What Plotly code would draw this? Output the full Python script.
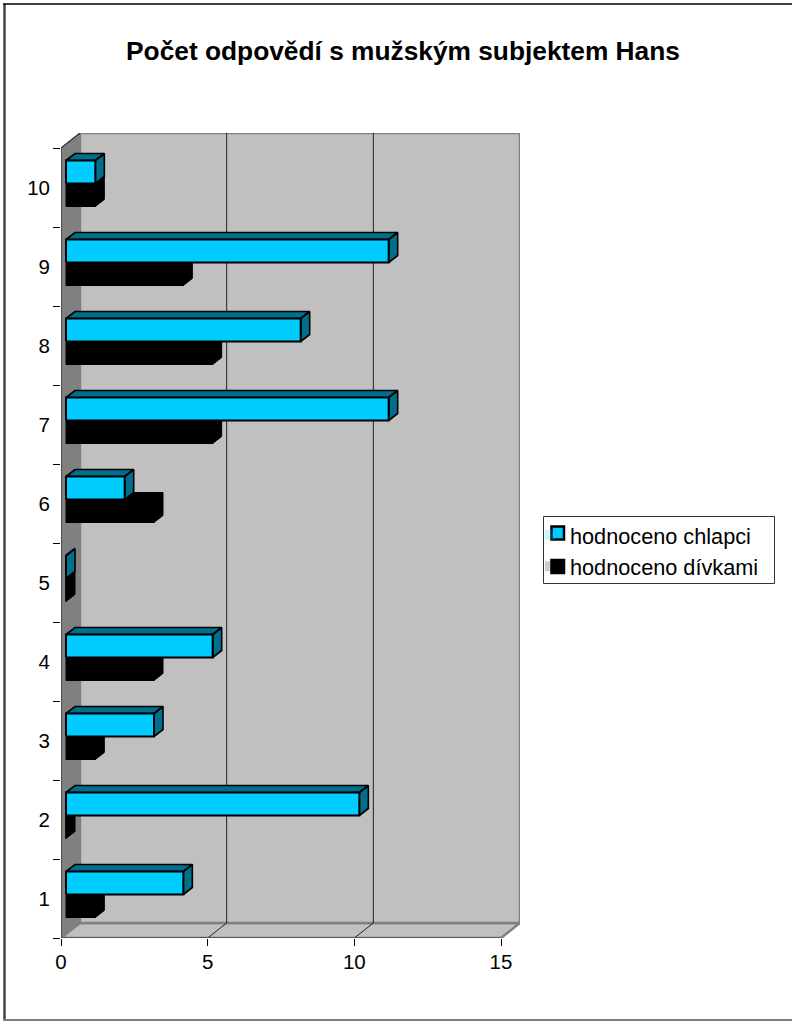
import plotly.graph_objects as go

categories = [1, 2, 3, 4, 5, 6, 7, 8, 9, 10]
chlapci = [4, 10, 3, 5, 0, 2, 11, 8, 11, 1]
divky = [1, 0, 1, 3, 0, 3, 5, 5, 4, 1]
x_ticks = [0, 5, 10, 15]
title_text = "Počet odpovědí s mužským subjektem Hans"
series_names = ["hodnoceno chlapci", "hodnoceno dívkami"]

W, H = 792, 1021
# Plot frame in pixels; the frame includes the oblique depth of the box
LEFT, RIGHT, TOP, BOTTOM = 61, 520, 133, 938
UX = (501 - 61) / 15      # pixels per unit along x
UY = (938 - 148) / 10     # pixels per category along y

WALL_DX, WALL_DY = 19 / UX, 15 / UY     # depth of the box
BAR_DX0, BAR_DY0 = 5 / UX, 4 / UY       # distance of a bar's front face from the front plane
BAR_DX, BAR_DY = 9 / UX, 7 / UY         # depth of a bar
BAR_H = 23 / UY

X_MAX, Y_MIN, Y_MAX = 15, 0.5, 10.5

CYAN, TEAL, GREY, SILVER = "#00CCFF", "#006F8C", "#808080", "#C0C0C0"


def px(x):
    return x / W


def py(y):
    return 1 - y / H


def poly(corners):
    xs, ys = [], []
    for c in corners:
        xs += [p[0] for p in c] + [c[0][0], None]
        ys += [p[1] for p in c] + [c[0][1], None]
    return xs, ys


def faces(values, y_low, y_high):
    """Front, top and side faces of a row of oblique bars."""
    front, top, side = [], [], []
    for cat, v in zip(categories, values):
        x0, x1 = BAR_DX0, BAR_DX0 + v
        y0, y1 = cat + y_low + BAR_DY0, cat + y_high + BAR_DY0
        front.append([(x0, y0), (x1, y0), (x1, y1), (x0, y1)])
        top.append([(x0, y1), (x1, y1), (x1 + BAR_DX, y1 + BAR_DY), (x0 + BAR_DX, y1 + BAR_DY)])
        side.append([(x1, y0), (x1 + BAR_DX, y0 + BAR_DY), (x1 + BAR_DX, y1 + BAR_DY), (x1, y1)])
    return front, top, side


def add_poly(fig, corners, fill, line, width):
    xs, ys = poly(corners)
    fig.add_trace(go.Scatter(
        x=xs, y=ys, mode="lines", fill="toself", fillcolor=fill,
        line=dict(color=line, width=width), hoverinfo="skip", showlegend=False,
    ))


def add_line(fig, xs, ys, color, width):
    fig.add_trace(go.Scatter(
        x=xs, y=ys, mode="lines", line=dict(color=color, width=width),
        hoverinfo="skip", showlegend=False,
    ))


def frame_line(x0, y0, x1, y1, color, width):
    return dict(type="line", xref="paper", yref="paper", x0=px(x0), y0=py(y0), x1=px(x1), y1=py(y1),
                line=dict(color=color, width=width), layer="below")


def swatch(y_mid, colour):
    return dict(type="rect", xref="paper", yref="paper", x0=px(551.5), x1=px(564), y0=py(y_mid - 6.5), y1=py(y_mid + 6.5),
                fillcolor=colour, line=dict(color="#000000", width=2.5), layer="above")


fig = go.Figure()

# Box of the oblique chart: side wall, floor, back wall
add_poly(fig, [[(0, Y_MIN), (0, Y_MAX), (WALL_DX, Y_MAX + WALL_DY), (WALL_DX, Y_MIN + WALL_DY)]], GREY, GREY, 1)
add_poly(fig, [[(0, Y_MIN), (X_MAX, Y_MIN), (X_MAX + WALL_DX, Y_MIN + WALL_DY), (WALL_DX, Y_MIN + WALL_DY)]], SILVER, GREY, 2.5)
add_poly(fig, [[(WALL_DX, Y_MIN + WALL_DY), (X_MAX + WALL_DX, Y_MIN + WALL_DY),
                (X_MAX + WALL_DX, Y_MAX + WALL_DY), (WALL_DX, Y_MAX + WALL_DY)]], SILVER, GREY, 2.5)

# Gridlines run across the back wall and down the floor
for t in x_ticks[1:-1]:
    add_line(fig, [t, t + WALL_DX, t + WALL_DX], [Y_MIN, Y_MIN + WALL_DY, Y_MAX + WALL_DY], "#222222", 1)

# Front edges of the box
add_line(fig, [0, 0, WALL_DX], [Y_MIN, Y_MAX, Y_MAX + WALL_DY], "#333333", 1.3)
add_line(fig, [0, WALL_DX], [Y_MIN, Y_MIN + WALL_DY], GREY, 1)
add_line(fig, [0, X_MAX], [Y_MIN, Y_MIN], "#555555", 2)

# Bars: the girls' row sits below the category centre, the boys' row above it
f_front, f_top, f_side = faces(divky, -BAR_H, 0)
add_poly(fig, f_front + f_top + f_side, "#000000", "#000000", 1)
c_front, c_top, c_side = faces(chlapci, 0, BAR_H)
add_poly(fig, c_top + c_side, TEAL, "#000000", 1.6)
add_poly(fig, c_front, CYAN, "#000000", 2)

# Legend entries; their keys are drawn as layout shapes beside the text
for name, colour in zip(series_names, [CYAN, "#000000"]):
    fig.add_trace(go.Scatter(
        x=[None], y=[None], mode="markers", name=name,
        marker=dict(symbol="square", size=10, color=colour, opacity=0),
    ))

FONT = "Liberation Sans, Arial, sans-serif"
shapes = [
    frame_line(4.5, 4, 4.5, 1020, "#444444", 2.5),
    frame_line(3, 4, 792, 4, "#000000", 1.5),
    frame_line(3, 1020, 792, 1020, "#808080", 2),
    dict(type="rect", xref="paper", yref="paper", x0=px(543.5), x1=px(774.5), y0=py(516.5), y1=py(583.5),
         line=dict(color="#333333", width=1), fillcolor="#FFFFFF", layer="below"),
    swatch(533, CYAN),
    swatch(566.5, "#000000"),
]

fig.update_layout(
    width=W, height=H, autosize=False,
    margin=dict(l=0, r=0, t=0, b=0, autoexpand=False),
    paper_bgcolor="#FFFFFF", plot_bgcolor="rgba(0,0,0,0)",
    font=dict(family=FONT, color="#000000", size=20),
    title=dict(text=f"<b>{title_text}</b>", x=px(403), xanchor="center", y=py(51), yanchor="middle",
               font=dict(family=FONT, size=26.3, color="#000000")),
    shapes=shapes,
    showlegend=True,
    legend=dict(
        xref="container", yref="container",
        x=px(530), xanchor="left", y=py(551), yanchor="middle",
        bgcolor="rgba(0,0,0,0)", borderwidth=0, font=dict(family=FONT, size=21.7),
        itemclick=False, itemdoubleclick=False, tracegroupgap=0,
    ),
    xaxis=dict(
        domain=[px(LEFT), px(RIGHT)], range=[0, X_MAX + WALL_DX], tickmode="array", tickvals=x_ticks,
        ticks="outside", ticklen=7, tickwidth=1, tickcolor="#000000", showgrid=False, zeroline=False,
        showline=False, ticklabelstandoff=-2, tickfont=dict(family=FONT, size=20.5), anchor="y", automargin=False,
    ),
    yaxis=dict(
        domain=[py(BOTTOM), py(TOP)], range=[Y_MIN, Y_MAX + WALL_DY], tickmode="array", tickvals=categories,
        ticks="", showgrid=False, zeroline=False, showline=False, automargin=False,
        ticklabelstandoff=10, tickfont=dict(family=FONT, size=20.5), anchor="x",
        minor=dict(tick0=0.5, dtick=1, ticks="outside", ticklen=7, tickwidth=1, tickcolor="#000000", showgrid=False),
    ),
)

fig.write_html("out.html")
